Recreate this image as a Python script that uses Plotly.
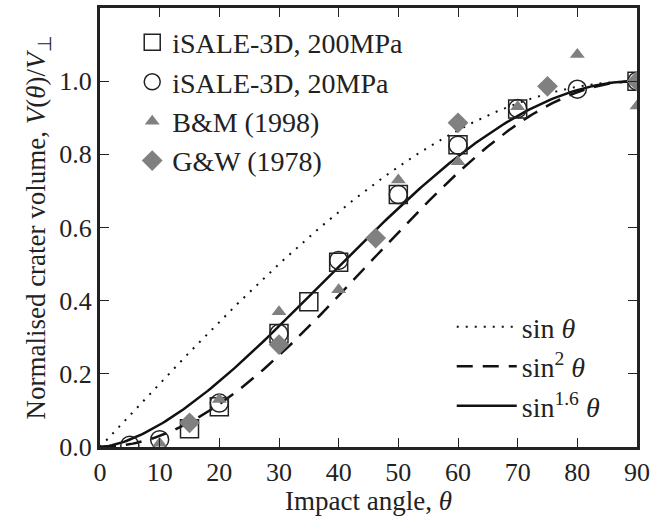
import numpy as np
import plotly.graph_objects as go

# Data
sq_x = [15, 20, 30, 35, 40, 50, 60, 70, 90]
sq_y = [0.05, 0.11, 0.31, 0.397, 0.505, 0.69, 0.826, 0.924, 1.0]

ci_x = [5, 10, 20, 30, 40, 50, 60, 70, 80, 90]
ci_y = [0.005, 0.02, 0.12, 0.31, 0.51, 0.69, 0.825, 0.925, 0.978, 1.0]

bm_x = [10, 20, 30, 40, 50, 60, 70, 80, 90]
bm_y = [0.01, 0.13, 0.37, 0.43, 0.73, 0.78, 0.93, 1.073, 0.932]

gw_x = [15, 30, 46.2, 60, 75, 90]
gw_y = [0.066, 0.28, 0.571, 0.886, 0.986, 1.0]

theta = np.linspace(0, 90, 181)
s = np.sin(np.radians(theta))

FONT = "Liberation Serif"
FST = 26   # tick labels
FSA = 27   # axis titles
FSL = 28   # legends
GREY = "#808080"

fig = go.Figure()

fig.add_trace(go.Scatter(x=theta, y=s, mode="lines", name="sin <i>θ</i>",
                         line=dict(color="#111", width=2, dash="2px,7px"), legend="legend2"))
fig.add_trace(go.Scatter(x=theta, y=s**2, mode="lines", name="sin<sup>2</sup> <i>θ</i>",
                         line=dict(color="#111", width=2.5, dash="16px,10px"), legend="legend2"))
fig.add_trace(go.Scatter(x=theta, y=s**1.6, mode="lines", name="sin<sup>1.6</sup> <i>θ</i>",
                         line=dict(color="#111", width=2.5), legend="legend2"))

fig.add_trace(go.Scatter(x=sq_x, y=sq_y, mode="markers", name="iSALE-3D, 200MPa",
                         marker=dict(symbol="square-open", size=18, color="#222", line=dict(width=1.5))))
fig.add_trace(go.Scatter(x=ci_x, y=ci_y, mode="markers", name="iSALE-3D, 20MPa",
                         marker=dict(symbol="circle-open", size=18, color="#222", line=dict(width=1.5))))
fig.add_trace(go.Scatter(x=bm_x, y=bm_y, mode="markers", name="B&amp;M (1998)",
                         marker=dict(symbol="triangle-up", size=13, color=GREY, line=dict(width=0))))
fig.add_trace(go.Scatter(x=gw_x, y=gw_y, mode="markers", name="G&amp;W (1978)",
                         marker=dict(symbol="diamond", size=16, color=GREY, line=dict(width=0))))

axis_common = dict(showline=True, linecolor="#222", linewidth=3, mirror="allticks",
                   ticks="inside", ticklen=9, tickwidth=1.3, tickcolor="#222",
                   showgrid=False, zeroline=False,
                   tickfont=dict(family=FONT, size=FST, color="#222"))

fig.update_layout(
    width=664, height=516,
    margin=dict(l=100, r=27, t=5, b=69),
    plot_bgcolor="white", paper_bgcolor="white",
    font=dict(family=FONT, size=FSA, color="#222"),
    xaxis=dict(range=[0, 90], tickvals=list(range(0, 91, 10)),
               title=dict(text="Impact angle, <i>θ</i>", font=dict(family=FONT, size=FSA), standoff=0),
               ticklabelstandoff=0,
               **axis_common),
    yaxis=dict(range=[0, 1.2], tickvals=[0, 0.2, 0.4, 0.6, 0.8, 1.0],
               ticktext=["0.0", "0.2", "0.4", "0.6", "0.8", "1.0"],
               title=dict(text="Normalised crater volume, <i>V</i>(<i>θ</i>)/<i>V</i><sub>⊥</sub>",
                          font=dict(family=FONT, size=FSA), standoff=6),
               **axis_common),
    legend=dict(x=0.06, y=0.978, xanchor="left", yanchor="top", bgcolor="rgba(0,0,0,0)",
                font=dict(family=FONT, size=FSL, color="#222"), tracegroupgap=0, itemwidth=30),
    legend2=dict(x=0.655, y=0.33, xanchor="left", yanchor="top", bgcolor="rgba(0,0,0,0)",
                 font=dict(family=FONT, size=FSL, color="#222"), itemwidth=60),
)

fig.write_html("out.html")
